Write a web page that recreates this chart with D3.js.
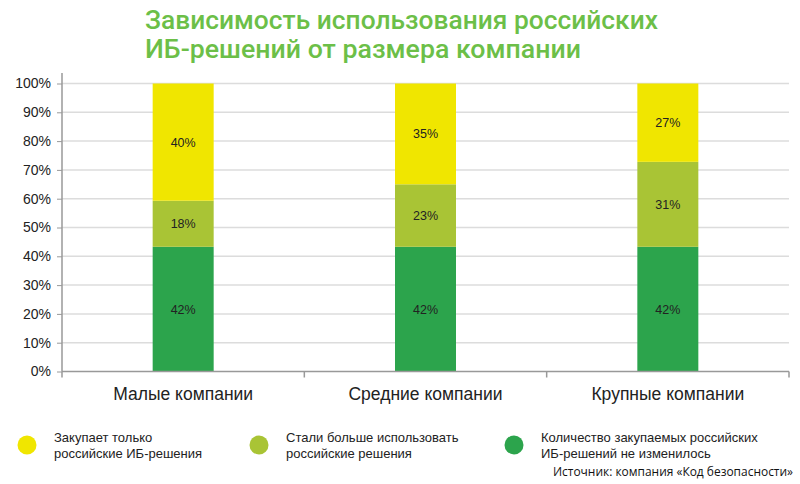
<!DOCTYPE html>
<html><head><meta charset="utf-8">
<script src="https://cdn.jsdelivr.net/npm/d3@7/dist/d3.min.js"></script>
<style>body{margin:0;background:#fff}svg{display:block}</style>
</head><body>
<svg id="c" width="800" height="484"></svg>
<script>
const categories = ["Малые компании", "Средние компании", "Крупные компании"];
const seriesNames = ["Количество закупаемых российских ИБ-решений не изменилось", "Стали больше использовать российские решения", "Закупает только российские ИБ-решения"];
const greenValues = [43.3, 43.3, 43.3];
const lightGreenValues = [16.0, 21.7, 29.5];
const yellowValues = [40.7, 35.0, 27.2];
const greenLabels = ["42%", "42%", "42%"];
const lightGreenLabels = ["18%", "23%", "31%"];
const yellowLabels = ["40%", "35%", "27%"];
const yTicks = [0, 10, 20, 30, 40, 50, 60, 70, 80, 90, 100];
const legendLines = [["Закупает только", "российские ИБ-решения"], ["Стали больше использовать", "российские решения"], ["Количество закупаемых российских", "ИБ-решений не изменилось"]];
const colors = ["#2ca44c", "#a9c435", "#f0e600"];
const legendColors = ["#f0e600", "#a9c435", "#2ca44c"];

const svg = d3.select("#c");
const x0 = 62, x1 = 789, yTop = 83.5, yBot = 371.5;
const x = d3.scaleBand().domain(categories).range([x0, x1]);
const y = d3.scaleLinear().domain([0, 100]).range([yBot, yTop]);

// Title
const title = svg.append("g").attr("fill", "#6cbf48").attr("font-family", "Roboto,'DejaVu Sans',sans-serif").attr("font-weight", 500).attr("font-size", 26);
title.append("text").attr("x", 145).attr("y", 29).attr("textLength", 513).attr("lengthAdjust", "spacingAndGlyphs").text("Зависимость использования российских");
title.append("text").attr("x", 145).attr("y", 58).attr("textLength", 436).attr("lengthAdjust", "spacingAndGlyphs").text("ИБ-решений от размера компании");

// gridlines
svg.append("g").selectAll("line").data(yTicks.filter(d => d > 0)).join("line")
  .attr("x1", x0).attr("x2", x1).attr("y1", d => y(d)).attr("y2", d => y(d))
  .attr("stroke", "#dcdcdc").attr("stroke-width", 1.5);

// y axis
const yAxis = svg.append("g").attr("transform", `translate(${x0},0)`)
  .call(d3.axisLeft(y).tickValues(yTicks).tickFormat(d => d + "%").tickSize(5).tickSizeOuter(0));
yAxis.select(".domain").remove();
yAxis.append("line").attr("x1", 0).attr("x2", 0).attr("y1", 73).attr("y2", yBot).attr("stroke", "#999").attr("stroke-width", 1.5);
yAxis.selectAll(".tick line").attr("stroke", "#999");
yAxis.selectAll(".tick text").attr("font-family", "'Liberation Sans',Arial,sans-serif").attr("font-size", 14).attr("fill", "#222").attr("x", -11);

// stacked bars
const stackData = categories.map((c, i) => ({cat: c, g: greenValues[i], l: lightGreenValues[i], yl: yellowValues[i]}));
const stack = d3.stack().keys(["g", "l", "yl"])(stackData);
const labels = [greenLabels, lightGreenLabels, yellowLabels];
const bw = 61;
stack.forEach((layer, li) => {
  const g = svg.append("g");
  g.selectAll("rect").data(layer).join("rect")
    .attr("x", d => x(d.data.cat) + x.bandwidth() / 2 - bw / 2)
    .attr("width", bw)
    .attr("y", d => y(d[1]))
    .attr("height", d => y(d[0]) - y(d[1]))
    .attr("fill", colors[li]);
  g.selectAll("text").data(layer).join("text")
    .attr("x", d => x(d.data.cat) + x.bandwidth() / 2)
    .attr("y", d => (y(d[0]) + y(d[1])) / 2 + 4.5)
    .attr("text-anchor", "middle")
    .attr("font-family", "'Liberation Sans',Arial,sans-serif").attr("font-size", 12.5).attr("fill", "#222")
    .text((d, i) => labels[li][i]);
});

// x axis
const xAxis = svg.append("g").attr("transform", `translate(0,${yBot})`);
xAxis.append("line").attr("x1", x0).attr("x2", x1).attr("stroke", "#999").attr("stroke-width", 1.5);
const bounds = categories.map(c => x(c)).concat([x1]);
xAxis.selectAll(".tk").data(bounds).join("line").attr("class", "tk")
  .attr("x1", d => d).attr("x2", d => d).attr("y1", 0).attr("y2", 6).attr("stroke", "#999").attr("stroke-width", 1.5);
xAxis.selectAll("text").data(categories).join("text")
  .attr("x", d => x(d) + x.bandwidth() / 2).attr("y", 28)
  .attr("text-anchor", "middle").attr("font-family", "'Liberation Sans',Arial,sans-serif").attr("font-size", 17.5).attr("fill", "#222")
  .text(d => d);

// legend
const legX = [27, 259, 514];
const leg = svg.append("g");
legendLines.forEach((lines, i) => {
  leg.append("circle").attr("cx", legX[i]).attr("cy", 445).attr("r", 9.5).attr("fill", legendColors[i]);
  lines.forEach((t, j) => {
    leg.append("text").attr("x", legX[i] + 27).attr("y", 442 + j * 16)
      .attr("font-family", "'Liberation Sans',Arial,sans-serif").attr("font-size", 13).attr("fill", "#222").text(t);
  });
});

// source
svg.append("text").attr("x", 793).attr("y", 476).attr("text-anchor", "end")
  .attr("font-family", "'Open Sans','DejaVu Sans',sans-serif").attr("font-size", 12).attr("fill", "#111")
  .attr("textLength", 240).attr("lengthAdjust", "spacingAndGlyphs")
  .text("Источник: компания «Код безопасности»");
</script>
</body></html>
